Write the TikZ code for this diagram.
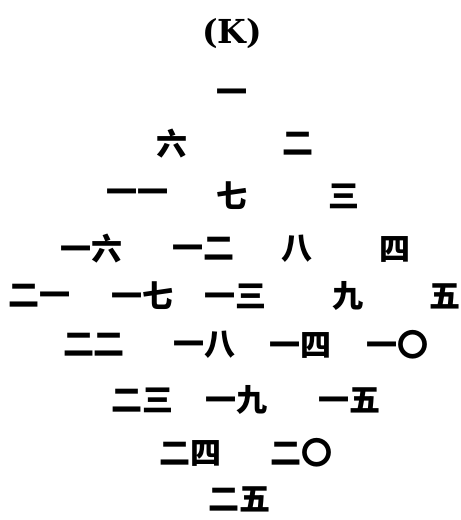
\documentclass[tikz,border=0pt]{standalone}
\usepackage{fontspec}
\newfontfamily\cjk{Noto Sans CJK SC}[BoldFont={Noto Sans CJK SC Black}]
\newfontfamily\titlefont{DejaVu Serif}
\usetikzlibrary{positioning}
\tikzset{
    num/.style={font=\cjk\bfseries\fontsize{31}{31}\selectfont, inner sep=0pt, anchor=center},
    heading/.style={font=\titlefont\bfseries\fontsize{33}{33}\selectfont, inner sep=0pt}
}

\begin{document}
\begin{tikzpicture}[x=1pt, y=-1pt]
    \useasboundingbox (0,0) rectangle (461,520);
    \node [heading] (title) at (232,34) {(K)};

    % row 1 and 2
    \node [num] (n1) at (232,96) {一};
    \node [num] (n6) at (172,144) {六};
    \node [num] (n2) at (298,144) {二};
    % row 3
    \node [num] (n11) at (137,196) {一一};
    \node [num] (n7) at (232,196) {七};
    \node [num] (n3) at (344,196) {三};
    % row 4
    \node [num] (n16) at (91,249) {一六};
    \node [num] (n12) at (203,249) {一二};
    \node [num] (n8) at (297,249) {八};
    \node [num] (n4) at (395,249) {四};
    % row 5
    \node [num] (n21) at (40,296) {二一};
    \node [num] (n17) at (142,296) {一七};
    \node [num] (n13) at (235,296) {一三};
    \node [num] (n9) at (348,296) {九};
    \node [num] (n5) at (445,296) {五};
    % row 6
    \node [num] (n22) at (94,345) {二二};
    \node [num] (n18) at (204,345) {一八};
    \node [num] (n14) at (300,345) {一四};
    \node [num] (n10) at (397,345) {一〇};
    % row 7
    \node [num] (n23) at (142,400) {二三};
    \node [num] (n19) at (236,400) {一九};
    \node [num] (n15) at (349,400) {一五};
    % row 8 and 9
    \node [num] (n24) at (190,453) {二四};
    \node [num] (n20) at (301,453) {二〇};
    \node [num] (n25) at (239,499) {二五};
\end{tikzpicture}
\end{document}
